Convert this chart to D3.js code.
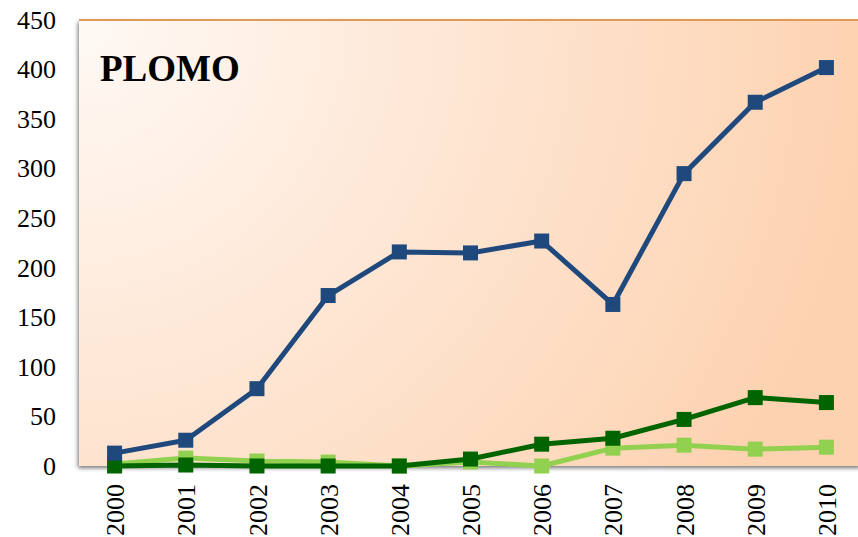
<!DOCTYPE html>
<html lang="es">
<head>
<meta charset="UTF-8">
<title>PLOMO</title>
<script src="https://cdnjs.cloudflare.com/ajax/libs/d3/7.8.5/d3.min.js"></script>
<style>
    body { margin: 0; background: #fff; }
    svg { display: block; }
</style>
</head>
<body>
<svg id="chart" width="858" height="537"></svg>
<script>
var years = ['2000', '2001', '2002', '2003', '2004', '2005', '2006', '2007', '2008', '2009', '2010'];
var blueSeries = [13, 26, 78, 172, 216, 215, 227, 163, 295, 367, 402];
var darkGreenSeries = [0, 1, 0, 0, 0, 7, 22, 28, 47, 69, 64];
var lightGreenSeries = [2, 8, 5, 4, 0, 4, 0, 18, 21, 17, 19];
var yTicks = [0, 50, 100, 150, 200, 250, 300, 350, 400, 450];

var SERIF = 'Liberation Serif, Times New Roman, serif';

var svg = d3.select('#chart');
var margin = {top: 20, left: 79};
var width = 783, height = 446;

var defs = svg.append('defs');
var grad = defs.append('radialGradient')
    .attr('id', 'bg')
    .attr('gradientUnits', 'userSpaceOnUse')
    .attr('cx', 0).attr('cy', 0).attr('r', 800);
grad.append('stop').attr('offset', '0%').attr('stop-color', '#fff9f5');
grad.append('stop').attr('offset', '100%').attr('stop-color', '#fdd2b0');

var shadow = defs.append('filter').attr('id', 'shadow')
    .attr('x', '-5%').attr('y', '-5%').attr('width', '110%').attr('height', '110%');
shadow.append('feDropShadow')
    .attr('dx', -1).attr('dy', 2).attr('stdDeviation', 2)
    .attr('flood-color', '#000').attr('flood-opacity', 0.55);

var g = svg.append('g').attr('transform', 'translate(' + margin.left + ',' + margin.top + ')');

var x = d3.scalePoint().domain(years).range([0, width]).padding(0.5);
var y = d3.scaleLinear().domain([0, 450]).range([height, 0]);

g.append('rect')
    .attr('width', width).attr('height', height)
    .attr('fill', 'url(#bg)')
    .attr('filter', 'url(#shadow)');
g.append('line')
    .attr('x1', 0).attr('x2', width).attr('y1', 0).attr('y2', 0)
    .attr('stroke', '#e09a58').attr('stroke-width', 2);

var yAxis = g.append('g')
    .call(d3.axisLeft(y).tickValues(yTicks).tickSize(0).tickPadding(23))
    .attr('font-family', SERIF).attr('font-size', 26);
yAxis.select('.domain').remove();
yAxis.selectAll('text').attr('fill', '#000');

var xAxis = g.append('g')
    .attr('transform', 'translate(0,' + height + ')')
    .call(d3.axisBottom(x).tickSize(0))
    .attr('font-family', SERIF).attr('font-size', 26);
xAxis.select('.domain').remove();
xAxis.selectAll('text')
    .attr('transform', 'rotate(-90)')
    .attr('x', -18).attr('y', 0).attr('dy', '0.35em')
    .attr('fill', '#000')
    .style('text-anchor', 'end');

g.append('text')
    .attr('x', 21).attr('y', 61)
    .attr('font-family', SERIF)
    .attr('font-weight', 'bold').attr('font-size', 37)
    .text('PLOMO');

var line = d3.line()
    .x(function (d, i) { return x(years[i]); })
    .y(function (d) { return y(d); });

var series = [
    {values: lightGreenSeries, color: '#92d050'},
    {values: darkGreenSeries, color: '#006400'},
    {values: blueSeries, color: '#1f497d'}
];

series.forEach(function (s) {
    g.append('path')
        .datum(s.values)
        .attr('fill', 'none')
        .attr('stroke', s.color)
        .attr('stroke-width', 5)
        .attr('stroke-linejoin', 'round')
        .attr('d', line);
    g.selectAll(null)
        .data(s.values)
        .enter()
        .append('rect')
        .attr('x', function (d, i) { return x(years[i]) - 7.5; })
        .attr('y', function (d) { return y(d) - 7.5; })
        .attr('width', 15).attr('height', 15)
        .attr('fill', s.color);
});
</script>
</body>
</html>
